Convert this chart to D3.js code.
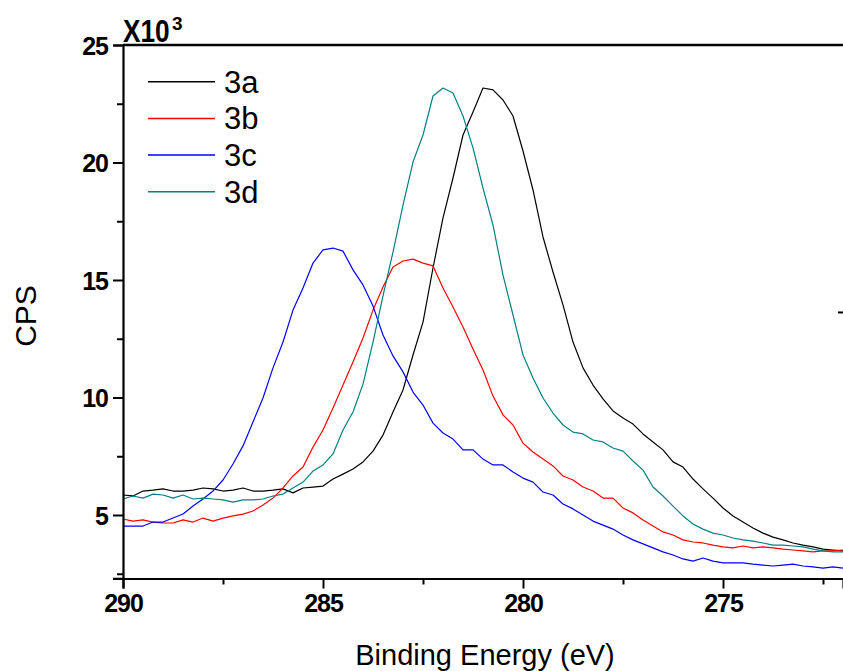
<!DOCTYPE html>
<html><head><meta charset="utf-8">
<script src="https://cdn.jsdelivr.net/npm/d3@7"></script>
<style>
html,body{margin:0;padding:0;background:#fff;}
svg{display:block;font-family:"Liberation Sans",Arial,sans-serif;}
</style></head>
<body><svg id="chart" width="843" height="671"></svg>
<script>
// Binding energy (eV), 290 -> 272 in 0.25 eV steps
const energy = [290,289.75,289.5,289.25,289,288.75,288.5,288.25,288,287.75,287.5,287.25,287,286.75,286.5,286.25,286,285.75,285.5,285.25,285,284.75,284.5,284.25,284,283.75,283.5,283.25,283,282.75,282.5,282.25,282,281.75,281.5,281.25,281,280.75,280.5,280.25,280,279.75,279.5,279.25,279,278.75,278.5,278.25,278,277.75,277.5,277.25,277,276.75,276.5,276.25,276,275.75,275.5,275.25,275,274.75,274.5,274.25,274,273.75,273.5,273.25,273,272.75,272.5,272.25,272];

// CPS in thousands (x10^3)
const s3a = [5.85,5.81,6.02,6.06,6.11,6.02,6.02,6.06,6.15,6.11,6.02,6.06,6.15,6.02,6.02,6.06,6.11,5.94,6.15,6.19,6.23,6.53,6.74,6.96,7.26,7.72,8.40,9.38,10.32,11.81,13.21,15.51,17.64,19.34,21.17,22.15,23.17,23.09,22.66,21.98,20.49,18.83,16.83,15.34,13.94,12.36,11.26,10.53,9.94,9.43,9.13,8.87,8.45,8.11,7.77,7.26,7.04,6.53,6.11,5.72,5.30,4.96,4.70,4.45,4.23,4.06,3.94,3.81,3.72,3.64,3.55,3.51,3.47];
const s3b = [4.83,4.74,4.79,4.70,4.66,4.66,4.79,4.70,4.87,4.74,4.87,4.96,5.04,5.17,5.43,5.72,6.15,6.66,7.04,7.89,8.62,9.55,10.53,11.51,12.53,13.72,14.70,15.55,15.81,15.89,15.72,15.60,14.66,13.85,13.00,12.06,11.17,10.06,9.26,8.83,8.06,7.68,7.38,7.09,6.66,6.49,6.19,6.02,5.72,5.72,5.30,5.09,4.79,4.53,4.28,4.15,3.94,3.85,3.81,3.72,3.64,3.60,3.68,3.60,3.64,3.60,3.55,3.51,3.47,3.43,3.47,3.47,3.51];
const s3c = [4.53,4.53,4.53,4.70,4.70,4.87,5.04,5.38,5.68,6.02,6.49,7.17,7.94,8.96,9.98,11.26,12.36,13.72,14.66,15.72,16.28,16.36,16.23,15.43,14.79,13.89,12.66,11.77,11.09,10.23,9.68,8.91,8.49,8.23,7.77,7.77,7.38,7.13,7.13,6.83,6.57,6.40,5.98,5.85,5.47,5.26,5.00,4.74,4.57,4.40,4.15,3.94,3.77,3.60,3.43,3.30,3.13,3.04,3.17,3.04,2.96,2.96,2.96,2.91,2.87,2.83,2.87,2.91,2.83,2.79,2.74,2.79,2.74];
const s3d = [5.68,5.81,5.72,5.89,5.85,5.72,5.85,5.68,5.72,5.68,5.64,5.55,5.64,5.64,5.68,5.81,5.89,6.15,6.40,6.87,7.13,7.60,8.62,9.38,10.57,12.36,14.32,16.19,18.19,20.02,21.17,22.83,23.17,22.96,21.98,20.62,18.91,17.34,15.21,13.51,11.81,10.83,9.98,9.34,8.83,8.53,8.45,8.19,8.11,7.85,7.72,7.30,6.91,6.19,5.81,5.38,4.96,4.62,4.40,4.23,4.15,4.02,3.94,3.89,3.81,3.72,3.72,3.68,3.64,3.55,3.47,3.43,3.43];

const seriesNames = ["3a","3b","3c","3d"];
const seriesColors = ["#000000","#ff0000","#0000ff","#008080"];
const seriesValues = [s3a,s3b,s3c,s3d];

const xMajorTicks = [290,285,280,275];
const xMinorTicks = [287.5,282.5,277.5,272.5];
const yMajorTicks = [5,10,15,20,25];
const yMinorTicks = [2.5,7.5,12.5,17.5,22.5];
const rightStrayTick = [13.64];

const svg = d3.select("#chart");
const x = d3.scaleLinear().domain([290,272]).range([123,843]);
const y = d3.scaleLinear().domain([2.3,25]).range([578.45,45]);

// curves
const line = d3.line().x(d=>x(d[0])).y(d=>y(d[1]));
seriesValues.forEach((vals,i)=>{
  svg.append("path")
    .datum(energy.map((e,j)=>[e,vals[j]]))
    .attr("fill","none")
    .attr("stroke",seriesColors[i])
    .attr("stroke-width",1.2)
    .attr("stroke-linejoin","round")
    .attr("d",line);
});

// axes
const xAxisG = svg.append("g").attr("transform","translate(0,578.5)");
xAxisG.call(d3.axisBottom(x).tickValues(xMajorTicks).tickSize(10).tickFormat(d3.format("d")));
const xMinorG = svg.append("g").attr("transform","translate(0,578.5)");
xMinorG.call(d3.axisBottom(x).tickValues(xMinorTicks).tickSize(6).tickFormat(""));
const yAxisG = svg.append("g").attr("transform","translate(123,0)");
yAxisG.call(d3.axisLeft(y).tickValues(yMajorTicks).tickSize(10).tickFormat(d3.format("d")));
const yMinorG = svg.append("g").attr("transform","translate(123,0)");
yMinorG.call(d3.axisLeft(y).tickValues(yMinorTicks).tickSize(6).tickFormat(""));
const rightG = svg.append("g").attr("transform","translate(843,0)");
rightG.call(d3.axisLeft(y).tickValues(rightStrayTick).tickSize(5).tickFormat(""));
rightG.select(".domain").remove();

[xAxisG,xMinorG,yAxisG,yMinorG,rightG].forEach(g=>{
  g.selectAll(".domain").attr("stroke","#000").attr("stroke-width",2.2);
  g.selectAll(".tick line").attr("stroke","#000").attr("stroke-width",2);
});
xMinorG.select(".domain").remove();
yMinorG.select(".domain").remove();
xAxisG.selectAll(".tick text").attr("font-size",25).attr("font-weight","bold")
  .attr("fill","#000").attr("y",16).attr("letter-spacing","-1");
yAxisG.selectAll(".tick text").attr("font-size",25).attr("font-weight","bold")
  .attr("fill","#000").attr("x",-15).attr("dy","0.36em").attr("letter-spacing","-1");

// top frame line
svg.append("line").attr("x1",x(290)).attr("x2",x(272)).attr("y1",y(25)).attr("y2",y(25))
  .attr("stroke","#000").attr("stroke-width",2.4);

// multiplier label (condensed horizontally)
svg.append("g").attr("transform","translate(123,42) scale(0.82,1)")
  .append("text").attr("x",0).attr("y",0).attr("font-weight","bold").attr("fill","#000")
  .attr("font-size",32).text("X10");
svg.append("text").attr("x",172).attr("y",30).attr("font-weight","bold").attr("fill","#000")
  .attr("font-size",19).text("3");

// axis titles
svg.append("text").attr("transform","translate(36,316) rotate(-90)")
  .attr("text-anchor","middle").attr("font-size",30).attr("fill","#000").text("CPS");
svg.append("text").attr("x",485).attr("y",665)
  .attr("text-anchor","middle").attr("font-size",29).attr("fill","#000").text("Binding Energy (eV)");

// legend
const legend = svg.append("g");
seriesNames.forEach((n,i)=>{
  const ly = 81.7 + i*36.7;
  legend.append("line").attr("x1",148).attr("x2",215).attr("y1",ly).attr("y2",ly)
    .attr("stroke",seriesColors[i]).attr("stroke-width",1.5);
  legend.append("text").attr("x",224).attr("y",ly+11).attr("font-size",31)
    .attr("fill","#000").text(n);
});
</script></body></html>
